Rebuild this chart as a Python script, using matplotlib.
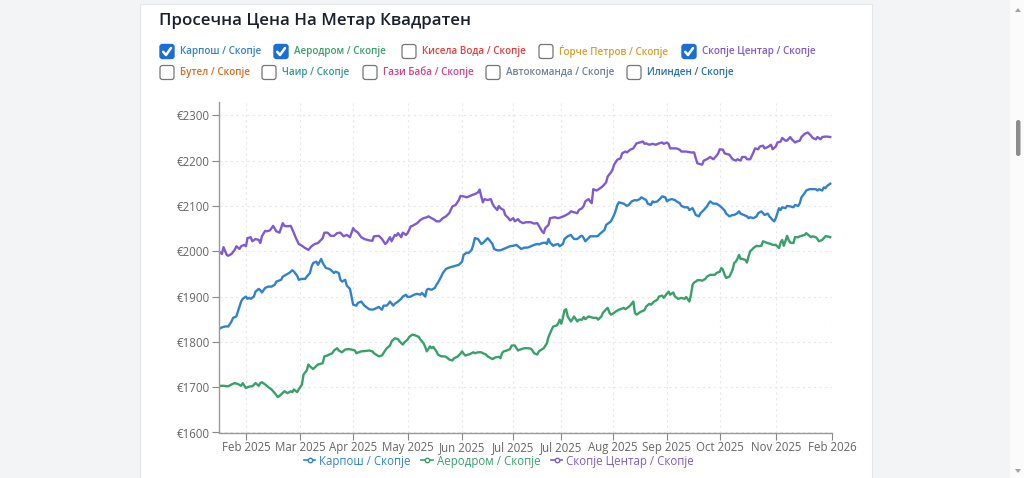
import matplotlib
matplotlib.use("Agg")
import matplotlib.pyplot as plt
from matplotlib.lines import Line2D
from matplotlib.patches import FancyBboxPatch, Rectangle, Polygon

plt.rcParams["font.family"] = ["Open Sans", "DejaVu Sans"]

TITLE = "Просечна Цена На Метар Квадратен"

# (day index, price in EUR)
karpos_points = [
    (0, 1828), (2, 1832), (4, 1834), (6, 1834), (8, 1845), (9, 1853), (11, 1856), (12, 1867),
    (14, 1889), (15, 1895), (17, 1900), (18, 1895), (19, 1897), (20, 1895), (22, 1900), (23, 1911),
    (25, 1917), (26, 1914), (27, 1909), (29, 1919), (31, 1922), (33, 1922), (35, 1926), (36, 1933),
    (39, 1937), (40, 1944), (42, 1948), (44, 1952), (46, 1958), (47, 1955), (49, 1946), (50, 1937),
    (52, 1939), (54, 1939), (55, 1944), (57, 1952), (58, 1966), (59, 1974), (61, 1977), (62, 1970),
    (64, 1983), (65, 1974), (67, 1963), (69, 1961), (70, 1959), (72, 1952), (73, 1955), (75, 1952),
    (76, 1937), (77, 1933), (79, 1937), (80, 1924), (82, 1917), (83, 1900), (84, 1882), (86, 1880),
    (87, 1886), (89, 1889), (91, 1880), (94, 1872), (96, 1871),
    (97, 1872), (100, 1877), (102, 1871), (103, 1880), (105, 1880), (106, 1884), (107, 1889),
    (109, 1880), (110, 1884), (112, 1889), (114, 1895), (115, 1900), (117, 1904), (118, 1899),
    (120, 1900), (122, 1904), (124, 1906), (126, 1904), (127, 1908), (129, 1900), (130, 1915),
    (131, 1917), (133, 1915), (135, 1919), (136, 1926), (137, 1931), (139, 1944), (140, 1952),
    (142, 1961), (144, 1964), (146, 1966), (148, 1968), (150, 1970), (152, 1977), (153, 1992),
    (155, 1997), (156, 1996), (158, 2003), (159, 2014), (160, 2029), (162, 2027), (164, 2016),
    (165, 2018), (167, 2025), (168, 2029), (169, 2025), (171, 2016), (172, 2005), (174, 2002),
    (176, 2002), (178, 2005), (180, 2008), (182, 2011), (184, 2012), (186, 2014), (187, 2011),
    (189, 2005), (191, 2008), (193, 2008),
    (195, 2011), (197, 2014), (199, 2016), (200, 2015), (202, 2018), (204, 2019), (205, 2016),
    (206, 2027), (207, 2019), (209, 2012), (210, 2014), (212, 2016), (213, 2011), (215, 2016),
    (216, 2027), (218, 2033), (220, 2036), (221, 2031), (222, 2027), (224, 2027), (226, 2033),
    (227, 2034), (228, 2029), (229, 2022), (231, 2029), (232, 2033), (234, 2033), (236, 2033),
    (237, 2034), (238, 2038), (240, 2044), (241, 2047), (242, 2058), (245, 2066), (246, 2073),
    (247, 2080), (248, 2090), (249, 2102), (250, 2108), (252, 2106), (253, 2105), (255, 2100),
    (256, 2102), (258, 2110), (260, 2113), (261, 2112), (263, 2115), (264, 2119), (265, 2117),
    (267, 2113), (268, 2105), (270, 2102), (271, 2110), (272, 2108), (274, 2110), (276, 2117),
    (277, 2121), (279, 2119), (280, 2110), (281, 2113), (283, 2115), (285, 2113), (286, 2110),
    (288, 2106), (289, 2100), (291, 2097),
    (293, 2097), (294, 2091), (296, 2095), (297, 2088), (298, 2080), (300, 2077), (301, 2084),
    (303, 2091), (305, 2099), (306, 2105), (307, 2110), (309, 2105), (311, 2105), (313, 2100),
    (314, 2097), (316, 2090), (317, 2083), (319, 2077), (321, 2080), (322, 2080), (324, 2084),
    (325, 2088), (326, 2083), (328, 2080), (330, 2077), (331, 2073), (332, 2075), (334, 2073),
    (336, 2077), (337, 2084), (339, 2088), (340, 2084), (341, 2080), (343, 2083), (344, 2077),
    (346, 2069), (347, 2066), (348, 2073), (349, 2084), (350, 2095), (351, 2091), (352, 2097),
    (354, 2095), (355, 2100), (357, 2099), (359, 2097), (360, 2102), (362, 2100), (363, 2106),
    (364, 2119), (366, 2128), (367, 2134), (369, 2137), (371, 2137), (373, 2137), (374, 2134),
    (375, 2137), (377, 2134), (378, 2141), (379, 2139), (380, 2144), (382, 2149),
]

aerodrom_points = [
    (0, 1703), (3, 1703), (6, 1702), (8, 1706), (10, 1709), (12, 1707), (14, 1703), (15, 1709),
    (17, 1698), (18, 1700), (20, 1702), (21, 1702), (23, 1709), (25, 1703), (26, 1709), (27, 1711),
    (29, 1706), (31, 1700), (33, 1695), (35, 1687), (37, 1678), (39, 1684), (41, 1691), (43, 1687),
    (45, 1691), (46, 1689), (47, 1695), (49, 1689), (50, 1695), (52, 1706), (53, 1728), (55, 1737),
    (56, 1750), (57, 1746), (59, 1740), (61, 1747), (62, 1750), (65, 1753), (66, 1768), (68, 1770),
    (69, 1772), (71, 1775), (72, 1781), (74, 1786), (75, 1781), (77, 1777), (79, 1783), (81, 1784),
    (83, 1783), (85, 1781), (86, 1775), (89, 1779), (92, 1780), (94, 1781), (96, 1779),
    (97, 1775), (100, 1768), (102, 1770), (104, 1781), (105, 1786), (107, 1792), (108, 1801),
    (110, 1808), (112, 1806), (113, 1801), (115, 1794), (116, 1799), (118, 1805), (119, 1811),
    (121, 1816), (123, 1814), (125, 1811), (126, 1805), (128, 1797), (129, 1789), (130, 1779),
    (132, 1790), (133, 1786), (134, 1789), (136, 1779), (137, 1772), (139, 1768), (141, 1768),
    (142, 1767), (144, 1761), (146, 1759), (147, 1764), (149, 1767), (151, 1774), (152, 1779),
    (153, 1774), (154, 1770), (156, 1772), (157, 1773), (159, 1777), (160, 1775), (162, 1777),
    (164, 1777), (165, 1775), (167, 1772), (168, 1768), (170, 1764), (171, 1762), (173, 1766),
    (175, 1767), (176, 1764), (177, 1775), (178, 1779), (180, 1781), (182, 1784), (183, 1792),
    (185, 1792), (186, 1786), (187, 1781), (189, 1784), (191, 1786), (193, 1786),
    (195, 1785), (196, 1781), (197, 1775), (199, 1772), (200, 1779), (202, 1784), (203, 1786),
    (205, 1797), (206, 1811), (208, 1827), (209, 1834), (211, 1836), (212, 1840), (213, 1849),
    (214, 1840), (215, 1853), (216, 1870), (217, 1872), (218, 1856), (220, 1845), (221, 1850),
    (222, 1856), (224, 1845), (225, 1849), (227, 1849), (228, 1855), (229, 1850), (231, 1856),
    (232, 1855), (234, 1853), (236, 1853), (237, 1849), (239, 1856), (240, 1864), (242, 1872),
    (243, 1875), (244, 1865), (245, 1860), (247, 1864), (248, 1867), (250, 1871), (251, 1872),
    (253, 1875), (254, 1872), (256, 1877), (257, 1880), (259, 1889), (260, 1864), (261, 1860),
    (263, 1865), (264, 1867), (266, 1870), (267, 1878), (269, 1884), (270, 1882), (272, 1889),
    (274, 1893), (275, 1900), (277, 1902), (278, 1897), (279, 1902), (281, 1911), (282, 1904),
    (284, 1909), (285, 1900), (287, 1895), (289, 1897), (291, 1895),
    (292, 1899), (294, 1889), (295, 1904), (296, 1926), (297, 1931), (298, 1933), (299, 1936),
    (301, 1936), (302, 1935), (304, 1939), (305, 1944), (307, 1948), (308, 1948), (310, 1948),
    (311, 1952), (313, 1955), (314, 1963), (315, 1959), (316, 1948), (317, 1941), (319, 1944),
    (321, 1959), (322, 1974), (323, 1977), (324, 1983), (325, 1992), (326, 1983), (327, 1983),
    (329, 1981), (330, 1975), (331, 1989), (332, 2000), (333, 2003), (334, 2007), (336, 2012),
    (337, 2011), (339, 2012), (340, 2022), (342, 2019), (343, 2018), (345, 2016), (346, 2014),
    (348, 2014), (350, 2007), (351, 2019), (352, 2025), (353, 2012), (354, 2022), (355, 2034),
    (356, 2025), (357, 2019), (359, 2018), (360, 2031), (362, 2031), (363, 2033), (364, 2034),
    (366, 2036), (367, 2040), (369, 2034), (370, 2031), (371, 2033), (373, 2031), (374, 2027),
    (375, 2022), (377, 2025), (378, 2029), (379, 2033), (380, 2033), (382, 2031),
]

centar_points = [
    (0, 2000), (2, 1994), (3, 2009), (5, 1992), (6, 1990), (8, 1994), (10, 2003), (11, 2011),
    (13, 2005), (14, 2011), (16, 2014), (17, 2011), (18, 2029), (20, 2031), (21, 2022), (23, 2027),
    (25, 2025), (26, 2018), (27, 2033), (29, 2045), (30, 2044), (32, 2046), (34, 2056), (36, 2044),
    (38, 2041), (40, 2062), (41, 2056), (43, 2055), (45, 2056), (47, 2040), (48, 2031), (50, 2016),
    (52, 2012), (54, 2007), (56, 2003), (58, 2011), (60, 2016), (62, 2018), (65, 2029), (66, 2041),
    (68, 2041), (70, 2034), (72, 2034), (74, 2040), (76, 2041), (78, 2033), (80, 2036), (82, 2031),
    (84, 2051), (85, 2046), (87, 2041), (89, 2031), (91, 2027), (94, 2024), (96, 2023),
    (97, 2033), (100, 2034), (102, 2027), (104, 2016), (105, 2019), (107, 2031), (108, 2022),
    (110, 2036), (111, 2034), (112, 2040), (114, 2031), (115, 2041), (117, 2036), (118, 2040),
    (120, 2055), (121, 2056), (124, 2062), (126, 2069), (128, 2073), (130, 2075), (131, 2077),
    (133, 2073), (135, 2069), (136, 2066), (138, 2066), (140, 2073), (142, 2077), (144, 2084),
    (146, 2099), (148, 2102), (150, 2113), (151, 2122), (153, 2121), (155, 2119), (157, 2122),
    (159, 2125), (160, 2126), (162, 2130), (163, 2136), (164, 2121), (165, 2108), (166, 2115),
    (168, 2113), (170, 2115), (171, 2105), (172, 2099), (174, 2091), (175, 2100), (176, 2095),
    (178, 2091), (179, 2080), (181, 2073), (182, 2068), (184, 2073), (185, 2066), (187, 2071),
    (188, 2066), (190, 2062), (192, 2064),
    (195, 2064), (197, 2061), (199, 2062), (200, 2056), (202, 2044), (203, 2040), (204, 2051),
    (206, 2058), (207, 2073), (210, 2075), (212, 2073), (214, 2075), (216, 2078), (217, 2080),
    (219, 2084), (220, 2088), (222, 2086), (224, 2084), (225, 2091), (227, 2095), (228, 2100),
    (229, 2110), (231, 2115), (232, 2110), (233, 2106), (234, 2137), (236, 2134), (237, 2136),
    (239, 2141), (240, 2144), (242, 2152), (243, 2165), (245, 2174), (246, 2180), (247, 2191),
    (249, 2202), (251, 2205), (252, 2216), (254, 2220), (255, 2218), (257, 2224), (259, 2227),
    (261, 2238), (263, 2240), (264, 2241), (265, 2242), (266, 2237), (267, 2238), (269, 2235),
    (271, 2237), (273, 2235), (275, 2238), (277, 2240), (278, 2237), (280, 2240), (281, 2237),
    (282, 2227), (284, 2227), (286, 2227), (288, 2224), (289, 2220),
    (292, 2220), (295, 2218), (297, 2218), (298, 2205), (299, 2194), (300, 2193), (302, 2191),
    (303, 2200), (305, 2203), (307, 2208), (309, 2203), (311, 2211), (312, 2216), (313, 2225),
    (315, 2224), (316, 2216), (319, 2213), (321, 2203), (323, 2200), (324, 2203), (326, 2200),
    (327, 2208), (329, 2208), (330, 2203), (332, 2203), (334, 2218), (335, 2227), (337, 2225),
    (338, 2231), (340, 2233), (341, 2227), (343, 2230), (345, 2235), (346, 2225), (348, 2231),
    (349, 2240), (351, 2242), (352, 2250), (354, 2244), (355, 2244), (357, 2252), (358, 2247),
    (360, 2240), (361, 2242), (363, 2244), (364, 2252), (366, 2259), (368, 2262), (370, 2255),
    (371, 2250), (373, 2247), (374, 2252), (376, 2247), (377, 2252), (379, 2253), (380, 2253),
    (382, 2252),
]

series_names = ["Карпош / Скопје", "Аеродром / Скопје", "Скопје Центар / Скопје"]
series_colors = ["#3182ce", "#38a169", "#805ad5"]

y_ticks = [1600, 1700, 1800, 1900, 2000, 2100, 2200, 2300]
x_tick_days = [17, 51, 84, 118, 152, 184, 214, 246, 280, 313, 348, 383]
x_tick_labels = ["Feb 2025", "Mar 2025", "Apr 2025", "May 2025", "Jun 2025", "Jul 2025",
                 "Jul 2025", "Aug 2025", "Sep 2025", "Oct 2025", "Nov 2025", "Feb 2026"]

filter_labels = [
    ["Карпош / Скопје", "Аеродром / Скопје", "Кисела Вода / Скопје",
     "Ѓорче Петров / Скопје", "Скопје Центар / Скопје"],
    ["Бутел / Скопје", "Чаир / Скопје", "Гази Баба / Скопје",
     "Автокоманда / Скопје", "Илинден / Скопје"],
]
filter_colors = [
    ["#3182ce", "#38a169", "#e53e3e", "#d69e2e", "#805ad5"],
    ["#dd6b20", "#319795", "#d53f8c", "#718096", "#2b6cb0"],
]
filter_checked = [[True, True, False, False, True], [False, False, False, False, False]]
filter_x = [[160, 274, 402, 539, 682], [160, 262, 363, 486, 627]]
filter_y = [51.5, 72.5]

W, H = 1024, 478
fig = plt.figure(figsize=(W / 100, H / 100), dpi=100)
fig.patch.set_facecolor("#f3f4f6")

# page background drawn in pixel coordinates
bg = fig.add_axes([0, 0, 1, 1], zorder=0)
bg.set_xlim(0, W)
bg.set_ylim(H, 0)
bg.axis("off")
bg.add_patch(Rectangle((140, 4), 732, 480, facecolor="white", edgecolor="#e4e6ea", lw=0.8))
bg.add_patch(Rectangle((1010, 0), 14, H, facecolor="#fbfbfb", edgecolor="none"))
bg.add_patch(FancyBboxPatch((1016, 120), 4.5, 36, boxstyle="round,pad=0,rounding_size=2.2",
                            facecolor="#8c8c8c", edgecolor="none"))
bg.add_patch(Polygon([(1015, 12), (1021, 12), (1018, 8)], closed=True, facecolor="#a3a3a3"))
bg.add_patch(Polygon([(1015, 469), (1021, 469), (1018, 473)], closed=True, facecolor="#a3a3a3"))

bg.text(159, 21, TITLE, fontsize=12.2, fontweight="semibold", color="#1a202c",
        ha="left", va="center")

for row in range(2):
    cy = filter_y[row]
    for lab, col, chk, cx in zip(filter_labels[row], filter_colors[row], filter_checked[row], filter_x[row]):
        if chk:
            bg.add_patch(FancyBboxPatch((cx, cy - 7), 14, 14, boxstyle="round,pad=0,rounding_size=2.5",
                                        facecolor="#1a6fd6", edgecolor="#1a6fd6", lw=1))
            bg.plot([cx + 3.2, cx + 6, cx + 11], [cy + 0.3, cy + 3.5, cy - 3.5],
                    color="white", lw=1.8, solid_capstyle="round", solid_joinstyle="round")
        else:
            bg.add_patch(FancyBboxPatch((cx, cy - 7), 14, 14, boxstyle="round,pad=0,rounding_size=2.5",
                                        facecolor="white", edgecolor="#767676", lw=0.9))
        bg.text(cx + 20, cy, lab, fontsize=7.1, fontweight="semibold", color=col,
                ha="left", va="center")

# main chart
ax = fig.add_axes([218.7 / W, 1 - 432.5 / H, (832 - 218.7) / W, (432.5 - 101.7) / H], zorder=1)
ax.set_facecolor("none")

handles = []
for pts, name, col in zip([karpos_points, aerodrom_points, centar_points], series_names, series_colors):
    days, vals = zip(*pts)
    ax.plot(days, vals, color=col, lw=1.7, solid_joinstyle="round")
    handles.append(Line2D([], [], color=col, lw=1.2, marker="o", markersize=3.2,
                          markerfacecolor="white", markeredgewidth=1.0))

ax.set_xlim(0, 383.1)
ax.set_ylim(1600, 2330)
ax.set_yticks(y_ticks)
ax.set_yticklabels([f"€{v}" for v in y_ticks])
ax.set_xticks(x_tick_days)
ax.set_xticklabels(x_tick_labels)
ax.tick_params(axis="both", colors="#888888", labelcolor="#666666", labelsize=8.3, length=5, width=0.8)
ax.tick_params(axis="x", pad=1)
ax.tick_params(axis="y", pad=1.5)
for side in ["top", "right"]:
    ax.spines[side].set_visible(False)
for side in ["left", "bottom"]:
    ax.spines[side].set_color("#999999")
    ax.spines[side].set_linewidth(1.0)
ax.grid(True, color="#e8e8e8", lw=0.8, linestyle=(0, (2, 3)))
ax.set_axisbelow(True)

leg = fig.legend(handles, series_names, loc="center", bbox_to_anchor=(499 / W, 1 - 461 / H),
                 ncol=3, frameon=False, fontsize=8.3, handlelength=1.0, handletextpad=0.35,
                 columnspacing=0.9)
for txt, col in zip(leg.get_texts(), series_colors):
    txt.set_color(col)

fig.savefig("out.png", dpi=100)
